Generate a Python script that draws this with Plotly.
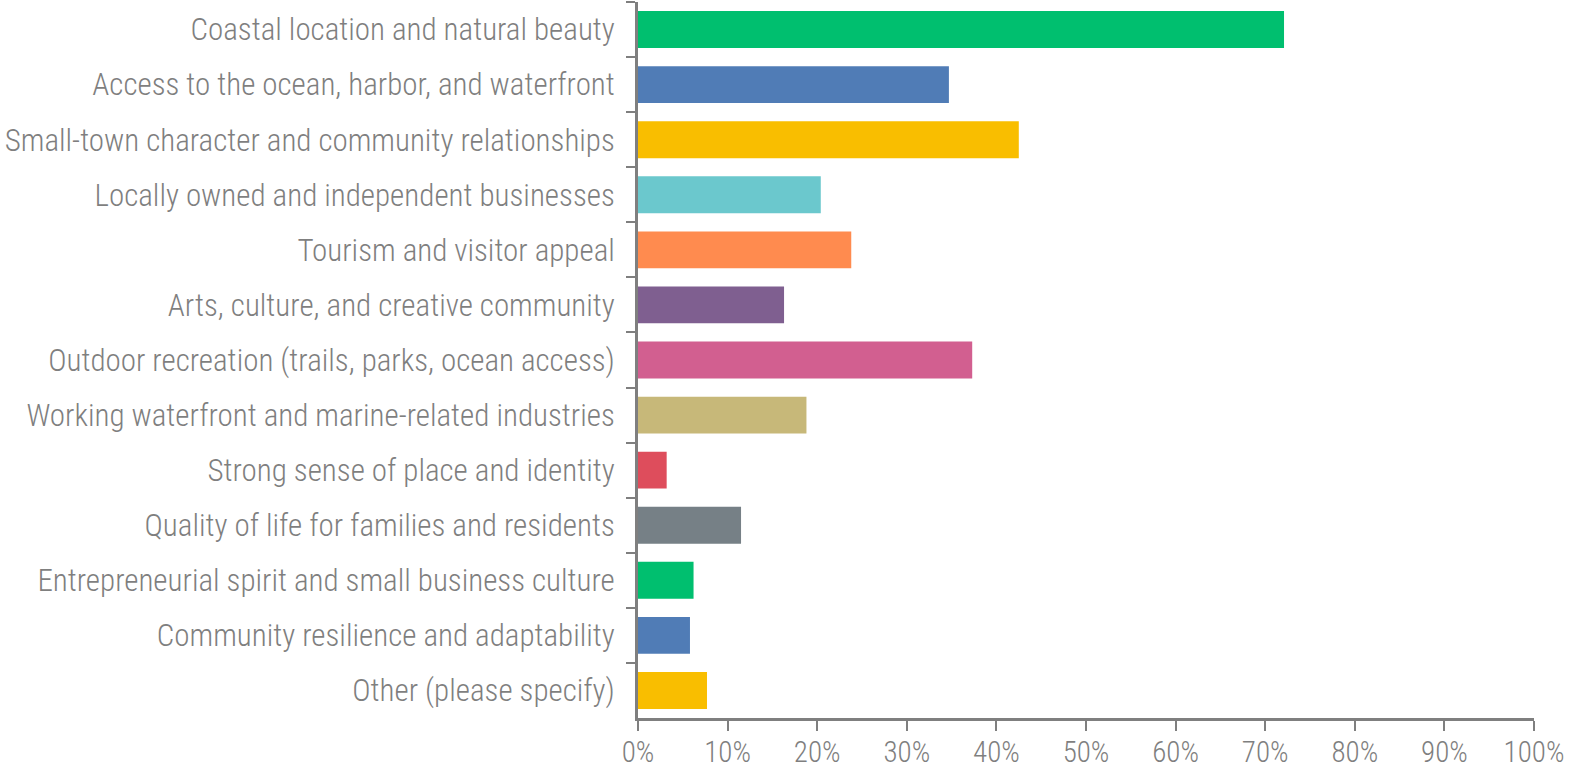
import plotly.graph_objects as go

categories = [
    "Coastal location and natural beauty",
    "Access to the ocean, harbor, and waterfront",
    "Small-town character and community relationships",
    "Locally owned and independent businesses",
    "Tourism and visitor appeal",
    "Arts, culture, and creative community",
    "Outdoor recreation (trails, parks, ocean access)",
    "Working waterfront and marine-related industries",
    "Strong sense of place and identity",
    "Quality of life for families and residents",
    "Entrepreneurial spirit and small business culture",
    "Community resilience and adaptability",
    "Other (please specify)",
]
values = [0.721, 0.347, 0.425, 0.204, 0.238, 0.163, 0.373, 0.188, 0.032, 0.115, 0.062, 0.058, 0.077]
colors = ["#00BF6F", "#507CB6", "#F9BE00", "#6BC8CD", "#FF8B4F", "#7F5F90",
          "#D25F90", "#C7B879", "#DE4D5C", "#768086", "#00BF6F", "#507CB6", "#F9BE00"]
x_ticks = [0, 0.1, 0.2, 0.3, 0.4, 0.5, 0.6, 0.7, 0.8, 0.9, 1.0]
x_labels = ["0%", "10%", "20%", "30%", "40%", "50%", "60%", "70%", "80%", "90%", "100%"]

FONT = "Liberation Sans Narrow, Roboto Condensed, Arial Narrow, sans-serif"
GRAY = "#7f7f7f"

fig = go.Figure(go.Bar(
    x=values, y=categories, orientation="h",
    marker=dict(color=colors, line=dict(width=0)),
))
fig.update_layout(
    width=1571, height=772,
    margin=dict(l=638, r=37, t=2, b=54, autoexpand=False),
    paper_bgcolor="white", plot_bgcolor="white",
    bargap=0.33, showlegend=False,
    font=dict(family=FONT, size=31, color=GRAY, weight=300),
)
fig.update_xaxes(
    range=[0, 1], tickvals=x_ticks, ticktext=x_labels,
    showgrid=False, zeroline=False, automargin=False,
    showline=True, linecolor=GRAY, linewidth=3,
    ticks="outside", ticklen=10, tickwidth=2, tickcolor=GRAY,
    ticklabelstandoff=-4,
    tickfont=dict(family=FONT, size=29, color=GRAY, weight=300),
)
fig.update_yaxes(
    autorange="reversed", type="category",
    showgrid=False, zeroline=False, automargin=False,
    showline=True, linecolor=GRAY, linewidth=3,
    ticks="outside", ticklen=9, tickwidth=2, tickcolor=GRAY,
    tickson="boundaries", ticklabelstandoff=14,
    tickfont=dict(family=FONT, size=31, color=GRAY, weight=300),
)
fig.write_html("out.html", config={"displayModeBar": False},
               post_script="document.body.style.margin='0';")
